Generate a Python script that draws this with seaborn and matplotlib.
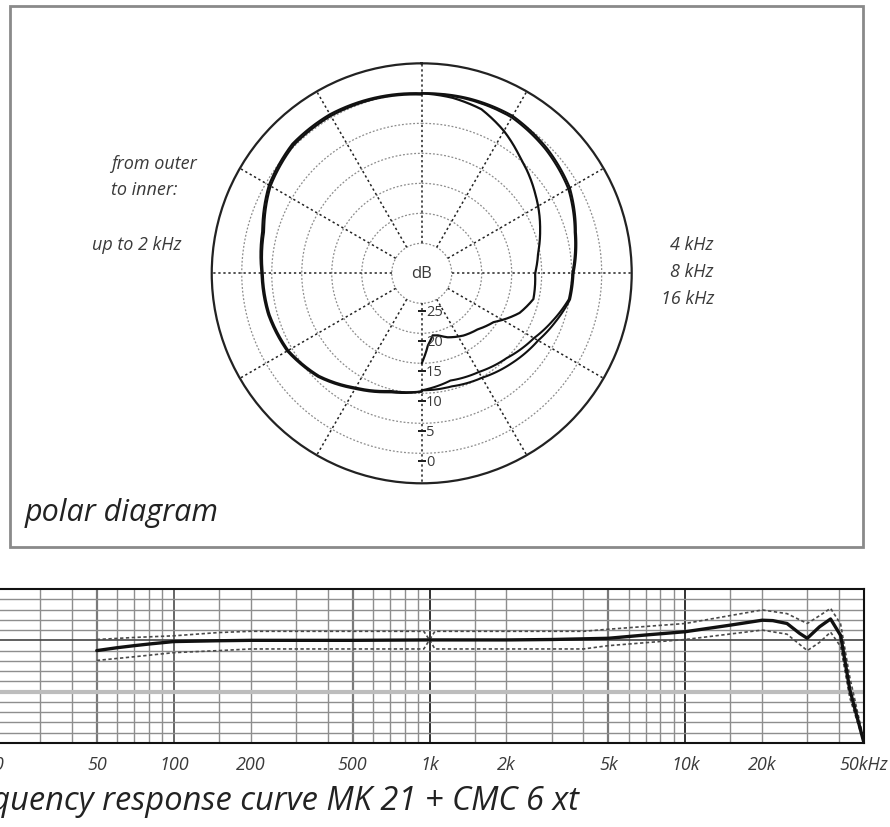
import numpy as np
import matplotlib
matplotlib.use("Agg")
import matplotlib.pyplot as plt
import matplotlib.patches as patches
import seaborn as sns

## polar data: angle from front (deg), level (dB)
ang_low = [0, 15, 30, 45, 60, 75, 90, 105, 120, 135, 150, 165, 180]
db_low_a = [0, 0.3, 0.6, 0.5, -0.6, -2.5, -3.3, -3.5, -4.1, -5.6, -7.8, -9.5, -10.3]
db_low_b = [-0.2, 0.1, 0.3, 0.2, -0.9, -2.8, -3.5, -3.7, -4.3, -5.8, -8.0, -9.7, -10.3]

ang_hi = [0, 15, 30, 45, 60, 75, 90, 100, 110, 120, 135, 150, 165, 180]
db_4k = [0, 0.2, 0.3, -0.5, -1.5, -3.4, -4.7, -4.9, -6.3, -7.6, -8.8, -9.9, -10.5, -10.5]
db_8k = [0, 0, 0, -0.8, -1.8, -3.6, -4.9, -5.1, -6.8, -8.4, -10.0, -11.0, -11.5, -10.5]

ang_16k = [0, 10, 20, 30, 40, 55, 70, 80, 90, 103, 112, 124, 135, 146, 158, 165, 170, 175, 180]
db_16k = [0, -0.3, -0.9, -2.6, -4.6, -6.9, -9.0, -10.3, -11.1, -10.9, -12.4, -15.5, -16.8,
          -17.5, -18.5, -19.3, -19.5, -18.0, -15.0]

ring_db = [-25, -20, -15, -10, -5, 0]
ring_labels = ["25", "20", "15", "10", "5", "0"]

## frequency response data
freq = [50, 60, 70, 80, 100, 150, 200, 500, 1000, 2000, 3000, 5000, 7000, 10000, 15000,
        20000, 22000, 25000, 28000, 30000, 33500, 37000, 40500, 44000, 50000]
resp = [-2.5, -1.8, -1.3, -0.9, -0.3, -0.1, 0, 0, 0.1, 0.1, 0.2, 0.5, 1.3, 2.1, 3.7,
        4.9, 4.8, 4.1, 1.7, 0.5, 3.3, 5.2, 1.2, -12, -25]

tol_freq = [50, 70, 100, 150, 200, 500, 950, 1000, 1050, 2000, 4000, 5000, 10000, 20000,
            25000, 30000, 33500, 37000, 40500, 44000, 50000]
tol_upper = [0.2, 0.7, 1.1, 1.9, 2.2, 2.2, 2.2, 0.1, 2.2, 2.2, 2.2, 2.7, 4.1, 7.4,
             6.5, 4.1, 6.0, 7.8, 4.0, -9, -24.5]
tol_lower = [-4.9, -4.0, -3.0, -2.5, -2.1, -2.1, -2.1, 0.1, -2.1, -2.1, -2.1, -1.3, 0.2, 2.5,
             1.5, -2.5, -0.5, 2.0, -1.5, -14, -25]

tick_hz = [20, 50, 100, 200, 500, 1000, 2000, 5000, 10000, 20000, 50000]
tick_txt = ["20", "50", "100", "200", "500", "1k", "2k", "5k", "10k", "20k", "50kHz"]
grid_hz = ([30, 40, 50, 60, 70, 80, 90, 150] + list(range(200, 1000, 100)) + [1500]
           + list(range(2000, 10000, 1000)) + [15000, 20000, 30000, 40000])
decade_hz = [100, 1000, 10000]

sns.set_style("white")
plt.rcParams["font.family"] = ["Open Sans", "DejaVu Sans"]
txt_col = "#3a3a3a"

fig = plt.figure(figsize=(8.9, 8.28), dpi=100)

# frame round the polar part
fig.patches.append(patches.Rectangle((10 / 890, 280 / 828), 853 / 890, 541 / 828,
                                     transform=fig.transFigure, fill=False,
                                     edgecolor="#8a8a8a", linewidth=2))

## polar diagram
ax = fig.add_axes([0.2379, 0.4151, 0.4719, 0.5072], projection="polar")
ax.set_theta_zero_location("N")
ax.set_theta_direction(-1)
ax.set_ylim(-30, 5)
ax.grid(False)
ax.set_xticks([])
ax.set_yticks([])
ax.spines["polar"].set_color("#222222")
ax.spines["polar"].set_linewidth(1.6)

full = np.linspace(0, 2 * np.pi, 361)
for lvl in ring_db:
    ax.plot(full, np.full_like(full, lvl), color="#8c8c8c", lw=0.9, ls=(0, (1.5, 1.5)))
for a in range(0, 360, 30):
    ax.plot([np.deg2rad(a)] * 2, [-25, 5], color="#222222", lw=1.1, ls=(0, (1.5, 1.8)))
n_grid = len(ax.lines)

# left half: up to 2 kHz, right half: 4, 8, 16 kHz
for vals in [db_low_a, db_low_b]:
    sns.lineplot(x=-np.deg2rad(ang_low), y=vals, ax=ax, color="#111111", lw=1.6,
                 sort=False, estimator=None)
sns.lineplot(x=np.deg2rad(ang_hi), y=db_4k, ax=ax, color="#111111", lw=1.5,
             sort=False, estimator=None)
sns.lineplot(x=np.deg2rad(ang_hi), y=db_8k, ax=ax, color="#111111", lw=1.5,
             sort=False, estimator=None)
sns.lineplot(x=np.deg2rad(ang_16k), y=db_16k, ax=ax, color="#111111", lw=1.6,
             sort=False, estimator=None)
# draw the segments as arcs in polar space
for ln in ax.lines[n_grid:]:
    ln.get_path()._interpolation_steps = 40
ax.set_ylim(-30, 5)
ax.set_xlabel("")
ax.set_ylabel("")

ax.text(0, -30, "dB", ha="center", va="center", fontsize=12, color=txt_col)
for lvl, lab in zip(ring_db, ring_labels):
    ax.plot([np.pi], [lvl + 1.3], marker="_", markersize=6, color="#222222", mew=1.2)
    ax.annotate(lab, xy=(np.pi, lvl), xytext=(3, -6), textcoords="offset points",
                ha="left", va="center", fontsize=10.5, color=txt_col)

small = dict(fontsize=13, style="italic", color=txt_col, va="center")
fig.text(111 / 890, 1 - 164 / 828, "from outer", ha="left", **small)
fig.text(111 / 890, 1 - 190 / 828, "to inner:", ha="left", **small)
fig.text(182 / 890, 1 - 245 / 828, "up to 2 kHz", ha="right", **small)
for i, lab in enumerate(["4 kHz", "8 kHz", "16 kHz"]):
    fig.text(714 / 890, 1 - (245 + 27 * i) / 828, lab, ha="right", **small)
fig.text(25 / 890, 1 - 521 / 828, "polar diagram", fontsize=22, style="italic",
         color="#222222", va="baseline", ha="left")

## frequency response
bx = fig.add_axes([-5 / 890, 84 / 828, 869 / 890, 154 / 828])
bx.set_xscale("log")
bx.set_xlim(20, 50000)
bx.set_ylim(-25, 12.5)
for f in grid_hz:
    c, w = ("#7a7a7a", 1.6) if f in (50, 500, 5000) else ("#8e8e8e", 1.0)
    bx.axvline(f, color=c, lw=w, zorder=1)
for f in decade_hz:
    bx.axvline(f, color="#333333" if f > 100 else "#666666", lw=1.4, zorder=1)
for lvl in np.arange(-22.5, 12.5, 2.5):
    if lvl == 0:
        bx.axhline(lvl, color="#444444", lw=1.2, zorder=1)
    elif lvl == -12.5:
        bx.axhline(lvl, color="#bdbdbd", lw=3, zorder=1)
    else:
        bx.axhline(lvl, color="#8e8e8e", lw=1.0, zorder=1)

sns.lineplot(x=tol_freq, y=tol_upper, ax=bx, color="#4a4a4a", lw=1.2,
             ls=(0, (2, 1.5)), sort=False, estimator=None, zorder=3)
sns.lineplot(x=tol_freq, y=tol_lower, ax=bx, color="#4a4a4a", lw=1.2,
             ls=(0, (2, 1.5)), sort=False, estimator=None, zorder=3)
sns.lineplot(x=freq, y=resp, ax=bx, color="#111111", lw=2.4,
             sort=False, estimator=None, zorder=4)

bx.set_xticks(tick_hz)
bx.set_xticklabels(tick_txt, fontsize=13, style="italic", color=txt_col)
bx.minorticks_off()
bx.set_yticks([])
bx.tick_params(axis="x", length=0, pad=9)
bx.set_xlabel("")
bx.set_ylabel("")
for s in ["top", "right", "bottom"]:
    bx.spines[s].set_color("#111111")
    bx.spines[s].set_linewidth(1.5)
bx.spines["left"].set_visible(False)

fig.text(580 / 890, 1 - 810 / 828, "frequency response curve MK 21 + CMC 6 xt",
         fontsize=23.5, style="italic", color="#222222", va="baseline", ha="right")

fig.savefig("out.png", dpi=100)
